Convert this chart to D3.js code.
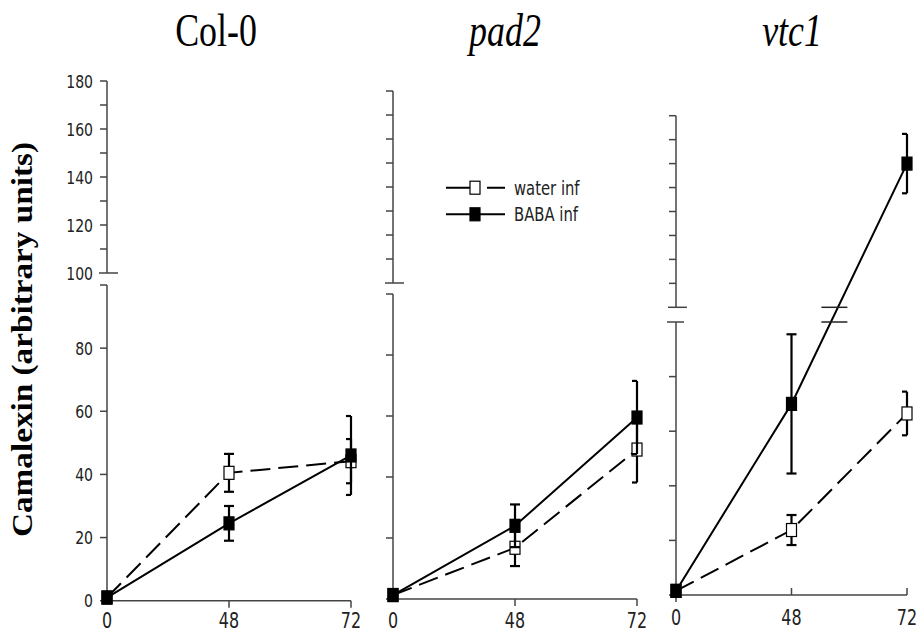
<!DOCTYPE html>
<html lang="en">
<head>
  <meta charset="UTF-8">
  <title>Camalexin</title>
  <style>
    body { margin: 0; background: #fff; }
    svg { display: block; }
    .axis line, .axis path { stroke: #444; stroke-width: 1.5; fill: none; }
    .tick-label { font-family: "DejaVu Sans", sans-serif; fill: #222; }
  </style>
</head>
<body>
<svg id="chart" width="917" height="635"></svg>
<script src="https://cdn.jsdelivr.net/npm/d3@7"></script>
<script>
// ---- data ----
var times = ["0", "48", "72"];
var genotypes = ["Col-0", "pad2", "vtc1"];
var lowerTicks = [0, 20, 40, 60, 80];
var upperTicks = [100, 120, 140, 160, 180];
var upperMinor = [110, 120, 130, 140, 150, 160, 170, 180];

var col0Water = [1, 40.5, 44.2], col0WaterErr = [0, 6, 7];
var col0Baba = [1, 24.5, 46], col0BabaErr = [0, 5.5, 12.5];
var pad2Water = [1.3, 16.8, 49], pad2WaterErr = [0, 6, 10.8];
var pad2Baba = [1.3, 24, 59.5], pad2BabaErr = [0, 7, 12];
var vtc1Water = [1.5, 23.8, 66.5], vtc1WaterErr = [0, 5.5, 8];
var vtc1Baba = [1.5, 70, 160], vtc1BabaErr = [0, 25.5, 12.4];

var seriesNames = ["water inf", "BABA inf"];

// ---- layout of the three panels ----
var panels = [
  {name: genotypes[0], italic: false, x: [107, 351], low: [600.7, 285], up: [273, 81], titleX: 216,
   water: col0Water, waterErr: col0WaterErr, baba: col0Baba, babaErr: col0BabaErr, labels: true, tickDir: 1},
  {name: genotypes[1], italic: true, x: [393, 637], low: [599, 294], up: [283, 91], titleX: 505,
   water: pad2Water, waterErr: pad2WaterErr, baba: pad2Baba, babaErr: pad2BabaErr, labels: false, tickDir: 1},
  {name: genotypes[2], italic: true, x: [676, 907], low: [595, 322], up: [307.3, 115.7], titleX: 792,
   water: vtc1Water, waterErr: vtc1WaterErr, baba: vtc1Baba, babaErr: vtc1BabaErr, labels: false, tickDir: -1}
];

var svg = d3.select('#chart');

// y label
svg.append('text')
  .attr('transform', 'translate(32,339.5) rotate(-90)')
  .attr('text-anchor', 'middle')
  .attr('textLength', 395)
  .attr('lengthAdjust', 'spacingAndGlyphs')
  .style('font-family', '"Liberation Serif", "Times New Roman", serif')
  .style('font-weight', 'bold')
  .style('font-size', '29px')
  .text('Camalexin (arbitrary units)');

panels.forEach(function(p){
  var g = svg.append('g');
  var x = d3.scalePoint().domain(times).range(p.x);
  var yLow = d3.scaleLinear().domain([0, 100]).range(p.low);
  var yUp = d3.scaleLinear().domain([100, 180]).range(p.up);
  var y = function(v){ return v <= 100 ? yLow(v) : yUp(v); };
  var ax = p.x[0];

  // title
  g.append('text')
    .attr('transform', 'translate(' + p.titleX + ',46) scale(0.78,1)')
    .attr('text-anchor', 'middle')
    .style('font-family', '"Liberation Serif", "Times New Roman", serif')
    .style('font-style', p.italic ? 'italic' : 'normal')
    .style('font-size', '46px')
    .text(p.name);

  var axisG = g.append('g').attr('class', 'axis');

  // lower y axis
  axisG.append('line').attr('x1', ax).attr('x2', ax)
    .attr('y1', yLow(0) + (p.tickDir < 0 ? 7 : 0)).attr('y2', yLow(100));
  lowerTicks.forEach(function(t){
    axisG.append('line').attr('x1', ax - 7).attr('x2', ax).attr('y1', yLow(t)).attr('y2', yLow(t));
  });
  // top of lower section (break)
  axisG.append('line').attr('x1', ax - (p.tickDir < 0 ? 9 : 7)).attr('x2', ax + (p.tickDir < 0 ? 8 : 0))
    .attr('y1', yLow(100)).attr('y2', yLow(100));

  // upper y axis
  axisG.append('line').attr('x1', ax).attr('x2', ax).attr('y1', yUp(100)).attr('y2', yUp(180));
  upperMinor.forEach(function(t){
    axisG.append('line').attr('x1', ax - 7).attr('x2', ax).attr('y1', yUp(t)).attr('y2', yUp(t));
  });
  axisG.append('line').attr('x1', ax - 8).attr('x2', ax + 11).attr('y1', yUp(100)).attr('y2', yUp(100));

  // x axis
  axisG.append('line').attr('x1', p.x[0]).attr('x2', p.x[1]).attr('y1', yLow(0)).attr('y2', yLow(0));
  times.slice(1).forEach(function(t){
    axisG.append('line').attr('x1', x(t)).attr('x2', x(t))
      .attr('y1', yLow(0)).attr('y2', yLow(0) + 7 * p.tickDir);
  });
  times.forEach(function(t){
    g.append('text').attr('class', 'tick-label')
      .attr('transform', 'translate(' + x(t) + ',' + Math.min(yLow(0) + 30, 628) + ') scale(0.76,1)')
      .attr('text-anchor', 'middle')
      .style('font-size', '21px')
      .text(t);
  });

  if (p.labels) {
    lowerTicks.forEach(function(t){
      g.append('text').attr('class', 'tick-label')
        .attr('transform', 'translate(' + (ax - 14) + ',' + (yLow(t) + 6.5) + ') scale(0.78,1)')
        .attr('text-anchor', 'end').style('font-size', '18px').text(t);
    });
    upperTicks.forEach(function(t){
      g.append('text').attr('class', 'tick-label')
        .attr('transform', 'translate(' + (ax - 14) + ',' + (yUp(t) + 6.5) + ') scale(0.78,1)')
        .attr('text-anchor', 'end').style('font-size', '18px').text(t);
    });
  }

  var line = d3.line().x(function(d, i){ return x(times[i]); }).y(function(d){ return y(d); });

  var series = [
    {vals: p.water, err: p.waterErr, dash: '20,8', fill: '#fff'},
    {vals: p.baba, err: p.babaErr, dash: null, fill: '#000'}
  ];

  series.forEach(function(s){
    g.append('path').datum(s.vals)
      .attr('d', line)
      .attr('fill', 'none').attr('stroke', '#000').attr('stroke-width', 2)
      .attr('stroke-dasharray', s.dash);
  });

  // break marks on a line crossing 100
  series.forEach(function(s){
    for (var i = 1; i < s.vals.length; i++) {
      if (s.vals[i - 1] <= 100 && s.vals[i] > 100) {
        var x0 = x(times[i - 1]), x1 = x(times[i]), y0 = y(s.vals[i - 1]), y1 = y(s.vals[i]);
        var xm = x0 + (x1 - x0) * ((y0 - (yLow(100) + yUp(100)) / 2) / (y0 - y1));
        [yLow(100), yUp(100)].forEach(function(yy){
          g.append('line').attr('x1', xm - 13).attr('x2', xm + 13)
            .attr('y1', yy).attr('y2', yy).attr('stroke', '#222').attr('stroke-width', 1.5);
        });
      }
    }
  });

  series.forEach(function(s){
    s.vals.forEach(function(v, i){
      if (!s.err[i]) return;
      var cx = x(times[i]);
      var last = i === times.length - 1;
      var capL = cx - 5, capR = last ? cx : cx + 5;
      var eg = g.append('g').attr('stroke', '#000').attr('stroke-width', 2.2);
      eg.append('line').attr('x1', cx).attr('x2', cx).attr('y1', y(v - s.err[i])).attr('y2', y(v + s.err[i]));
      [v - s.err[i], v + s.err[i]].forEach(function(e){
        eg.append('line').attr('x1', capL).attr('x2', capR).attr('y1', y(e)).attr('y2', y(e));
      });
    });
    g.selectAll(null).data(s.vals).enter().append('rect')
      .attr('x', function(d, i){ return x(times[i]) - 5; })
      .attr('y', function(d){ return y(d) - 6.5; })
      .attr('width', 10).attr('height', 13)
      .attr('fill', s.fill).attr('stroke', '#000').attr('stroke-width', 1.2);
  });
});

// legend
var legend = svg.append('g');
var legendY = [187.7, 214.3];
seriesNames.forEach(function(name, i){
  var ly = legendY[i];
  legend.append('line').attr('x1', 446).attr('x2', 505).attr('y1', ly).attr('y2', ly)
    .attr('stroke', '#000').attr('stroke-width', 2)
    .attr('stroke-dasharray', i === 0 ? '24,17,18' : null);
  legend.append('rect').attr('x', 470).attr('y', ly - 6.5).attr('width', 10).attr('height', 13)
    .attr('fill', i === 0 ? '#fff' : '#000').attr('stroke', '#000').attr('stroke-width', 1.2);
  legend.append('text').attr('class', 'tick-label')
    .attr('transform', 'translate(514,' + (ly + 7) + ') scale(0.76,1)')
    .style('font-size', '19.5px')
    .text(name);
});
</script>
</body>
</html>
